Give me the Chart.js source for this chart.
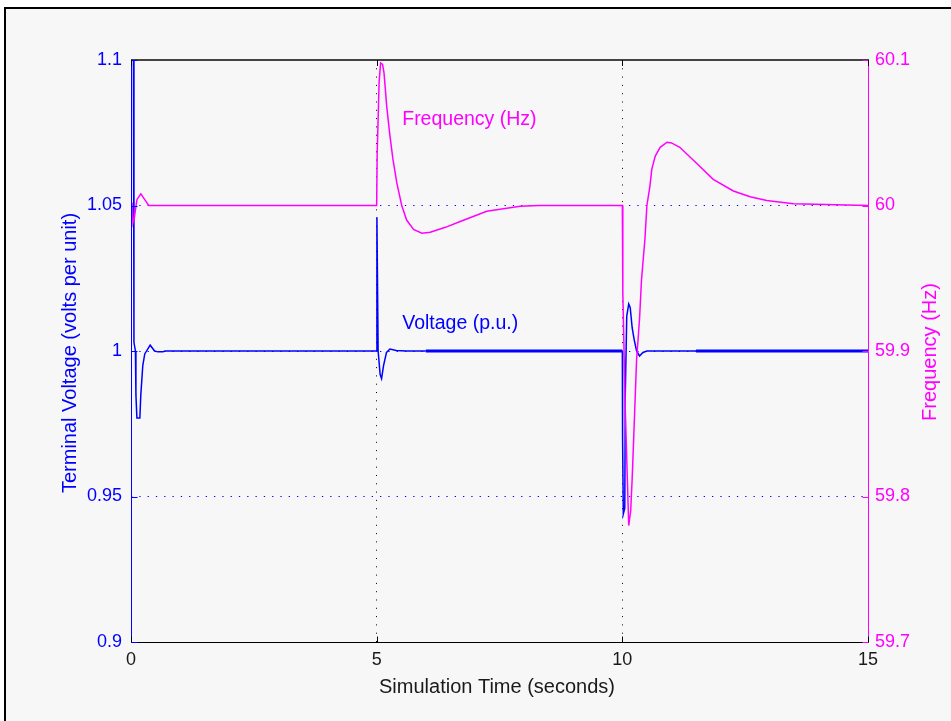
<!DOCTYPE html>
<html><head><meta charset="utf-8">
<script src="https://cdn.jsdelivr.net/npm/chart.js@4/dist/chart.umd.min.js"></script>
<style>html,body{margin:0;padding:0;background:#fff;}#wrap{width:951px;height:721px;}</style>
</head><body><div id="wrap"><canvas id="c" width="951" height="721"></canvas></div>
<script>
const xTicks = [0, 5, 10, 15];
const xTickLabels = ['0', '5', '10', '15'];
const voltTicks = [0.9, 0.95, 1, 1.05, 1.1];
const voltTickLabels = ['0.9', '0.95', '1', '1.05', '1.1'];
const freqTicks = [59.7, 59.8, 59.9, 60, 60.1];
const freqTickLabels = ['59.7', '59.8', '59.9', '60', '60.1'];

const voltTime  = [0, 0.05, 0.06, 0.09, 0.1, 0.12, 0.18, 0.2, 0.24, 0.28, 0.39, 0.48, 0.55, 0.65, 0.69,
                   5.0, 5.005, 5.03, 5.07, 5.10, 5.14, 5.2, 5.27, 5.4, 5.6, 6.0,
                   10.0, 10.005, 10.02, 10.05, 10.06, 10.09, 10.13, 10.16, 10.2, 10.24, 10.29, 10.35, 10.42, 10.5, 11.5, 15];
const voltValue = [1.1, 1.1, 1.003, 1.0, 0.985, 0.977, 0.977, 0.985, 0.995, 0.999, 1.002, 1.0, 0.9997, 0.9997, 1.0,
                   1.0, 1.046, 1.0, 0.992, 0.9905, 0.995, 0.9995, 1.0007, 1.0002, 1.0, 1.0,
                   1.0, 0.97, 0.944, 0.946, 0.985, 1.012, 1.0162, 1.015, 1.008, 1.004, 1.0, 0.9983, 0.9995, 1.0, 1.0, 1.0];

const freqTime  = [0, 0.02, 0.04, 0.07, 0.12, 0.2, 0.28, 0.36,
                   5.0, 5.01, 5.03, 5.05, 5.08, 5.12, 5.15, 5.205, 5.27, 5.33, 5.41, 5.51, 5.61, 5.75, 5.92, 6.09,
                   6.4, 6.7, 7.24, 7.92, 8.3,
                   10.0, 10.01, 10.06, 10.13, 10.17, 10.2, 10.23, 10.29, 10.35, 10.39, 10.46, 10.5, 10.56, 10.6,
                   10.67, 10.77, 10.91, 11.0, 11.17, 11.51, 11.85, 12.26, 12.6, 12.94, 13.48, 14.57, 15];
const freqValue = [60.0, 60.002, 59.988, 59.992, 60.004, 60.008, 60.004, 60.0,
                   60.0, 60.035, 60.06, 60.085, 60.098, 60.097, 60.091, 60.068, 60.048, 60.032, 60.0156, 60.0, 59.990, 59.9835, 59.981, 59.9816,
                   59.985, 59.989, 59.996, 59.9995, 60.0,
                   60.0, 59.94, 59.86, 59.78, 59.79, 59.812, 59.839, 59.894, 59.922, 59.949, 59.977, 60.0, 60.013, 60.025,
                   60.034, 60.040, 60.0435, 60.043, 60.040, 60.029, 60.018, 60.010, 60.006, 60.0034, 60.0012, 60.0003, 60.0];

const BLUE = '#0000ff', MAGENTA = '#ff00ff', DARK = '#1a1a1a';
const FONT = '"Liberation Sans", Arial, sans-serif';

const voltData = voltTime.map((t, i) => ({x: t, y: voltValue[i]}));
const freqData = freqTime.map((t, i) => ({x: t, y: freqValue[i]}));

const framePlugin = {
  id: 'frame',
  beforeDraw(chart) {
    const ctx = chart.ctx;
    ctx.save();
    ctx.fillStyle = '#ffffff';
    ctx.fillRect(0, 0, chart.width, chart.height);
    ctx.fillStyle = '#f7f7f7';
    ctx.fillRect(6, 9, chart.width, chart.height);
    ctx.fillStyle = '#000';
    ctx.fillRect(4, 7, chart.width, 2);
    ctx.fillRect(4, 7, 2, chart.height);
    ctx.restore();
  },
  afterDatasetsDraw(chart) {
    const ctx = chart.ctx, a = chart.chartArea;
    const xs = chart.scales.x, yl = chart.scales.yV, yr = chart.scales.yF;
    const L = Math.round(a.left) + 0.5, R = Math.round(a.right) + 0.5;
    const T = Math.round(a.top), B = Math.round(a.bottom) + 0.5;
    ctx.save();
    ctx.fillStyle = '#444';
    ctx.fillRect(L - 0.5, T - 1, R - L + 1, 2);
    ctx.strokeStyle = '#000'; ctx.lineWidth = 1;
    ctx.beginPath(); ctx.moveTo(L, B); ctx.lineTo(R, B); ctx.stroke();
    ctx.strokeStyle = BLUE;
    ctx.beginPath(); ctx.moveTo(L, T); ctx.lineTo(L, B); ctx.stroke();
    ctx.strokeStyle = MAGENTA;
    ctx.beginPath(); ctx.moveTo(R, T); ctx.lineTo(R, B); ctx.stroke();
    const tl = 6;
    ctx.strokeStyle = BLUE;
    voltTicks.forEach(v => {
      const y = Math.round(yl.getPixelForValue(v)) + 0.5;
      ctx.beginPath(); ctx.moveTo(L, y); ctx.lineTo(L + tl, y); ctx.stroke();
    });
    ctx.strokeStyle = MAGENTA;
    freqTicks.forEach(v => {
      const y = Math.round(yr.getPixelForValue(v)) + 0.5;
      ctx.beginPath(); ctx.moveTo(R, y); ctx.lineTo(R - tl, y); ctx.stroke();
    });
    ctx.strokeStyle = '#000';
    xTicks.forEach(v => {
      const x = Math.round(xs.getPixelForValue(v)) + 0.5;
      ctx.beginPath(); ctx.moveTo(x, B); ctx.lineTo(x, B - tl); ctx.stroke();
      ctx.beginPath(); ctx.moveTo(x, T); ctx.lineTo(x, T + tl); ctx.stroke();
    });
    ctx.font = '19.5px ' + FONT;
    ctx.textAlign = 'left'; ctx.textBaseline = 'middle';
    ctx.fillStyle = MAGENTA;
    ctx.fillText('Frequency (Hz)', xs.getPixelForValue(5.52), yr.getPixelForValue(60.059));
    ctx.fillStyle = BLUE;
    ctx.fillText('Voltage (p.u.)', xs.getPixelForValue(5.52), yl.getPixelForValue(1.0093));
    ctx.font = '20px ' + FONT;
    ctx.textAlign = 'center'; ctx.textBaseline = 'middle';
    ctx.fillStyle = DARK;
    ctx.fillText('Simulation Time (seconds)', 497, 687);
    ctx.save();
    ctx.translate(70, 353); ctx.rotate(-Math.PI / 2);
    ctx.fillStyle = BLUE;
    ctx.fillText('Terminal Voltage (volts per unit)', 0, 0);
    ctx.restore();
    ctx.save();
    ctx.translate(930, 352); ctx.rotate(-Math.PI / 2);
    ctx.fillStyle = MAGENTA;
    ctx.fillText('Frequency (Hz)', 0, 0);
    ctx.restore();
    ctx.restore();
  }
};

new Chart(document.getElementById('c'), {
  type: 'line',
  data: {
    datasets: [
      {
        label: 'Frequency (Hz)', data: freqData, yAxisID: 'yF',
        borderColor: MAGENTA, borderWidth: 1.5, pointRadius: 0, tension: 0, fill: false, order: 0
      },
      {
        label: 'Voltage (p.u.)', data: voltData, yAxisID: 'yV',
        borderColor: BLUE, borderWidth: 1.5, pointRadius: 0, tension: 0, fill: false, order: 1,
        segment: {
          borderWidth: c => {
            const x = c.p0.parsed.x;
            return ((x >= 6.0 && x < 10.0) || x >= 11.5) ? 3 : 1.5;
          }
        }
      }
    ]
  },
  options: {
    responsive: false,
    animation: false,
    events: [],
    layout: {padding: {top: 60, left: 0, right: 0, bottom: 0}},
    plugins: {legend: {display: false}, tooltip: {enabled: false}},
    scales: {
      x: {
        type: 'linear', min: 0, max: 15, position: 'bottom',
        afterBuildTicks: s => { s.ticks = xTicks.map(v => ({value: v})); },
        afterFit: s => { s.height = 79; },
        ticks: {
          callback: (v) => xTickLabels[xTicks.indexOf(v)],
          color: DARK, font: {family: FONT, size: 18}, padding: 7, maxRotation: 0, autoSkip: false
        },
        grid: {
          color: c => (c.tick && (c.tick.value === 5 || c.tick.value === 10)) ? '#000' : 'rgba(0,0,0,0)',
          lineWidth: 1, drawTicks: false
        },
        border: {display: false, dash: [1, 7.3]}
      },
      yV: {
        type: 'linear', min: 0.9, max: 1.1, position: 'left',
        afterBuildTicks: s => { s.ticks = voltTicks.map(v => ({value: v})); },
        afterFit: s => { s.width = 131; },
        ticks: {
          callback: (v) => voltTickLabels[voltTicks.indexOf(v)],
          color: BLUE, font: {family: FONT, size: 18}, padding: 9, autoSkip: false
        },
        grid: {
          color: c => (c.tick && (c.tick.value === 0.95 || c.tick.value === 1 || c.tick.value === 1.05)) ? BLUE : 'rgba(0,0,0,0)',
          lineWidth: 1, drawTicks: false
        },
        border: {display: false, dash: [1.3, 7]}
      },
      yF: {
        type: 'linear', min: 59.7, max: 60.1, position: 'right',
        afterBuildTicks: s => { s.ticks = freqTicks.map(v => ({value: v})); },
        afterFit: s => { s.width = 83; },
        ticks: {
          callback: (v) => freqTickLabels[freqTicks.indexOf(v)],
          color: MAGENTA, font: {family: FONT, size: 18}, padding: 7, autoSkip: false
        },
        grid: {display: false, drawTicks: false},
        border: {display: false}
      }
    }
  },
  plugins: [framePlugin]
});
</script>
</body></html>
